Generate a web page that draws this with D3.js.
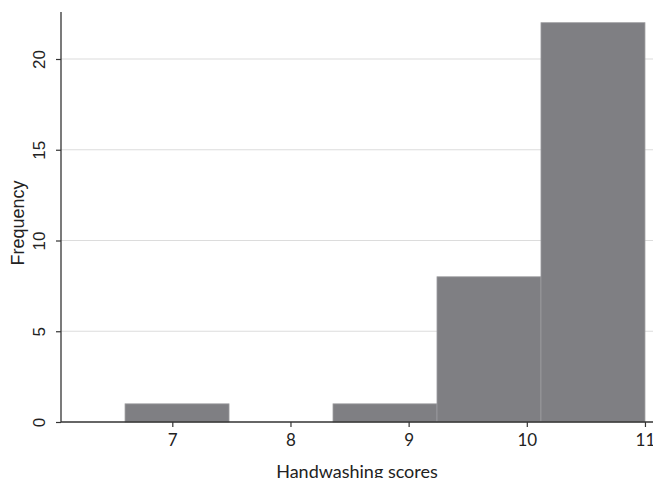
<!DOCTYPE html>
<html>
<head>
<meta charset="utf-8">
<script src="https://cdn.jsdelivr.net/npm/d3@7"></script>
<style>
html,body{margin:0;padding:0;background:#fff;}
svg{display:block;}
</style>
</head>
<body>
<svg id="chart" width="653" height="478"></svg>
<script>
// Data
const binStarts = [6.6, 7.48, 8.36, 9.24, 10.12];
const binEnds   = [7.48, 8.36, 9.24, 10.12, 11.0];
const counts    = [1, 0, 1, 8, 22];
const xTicks = [7, 8, 9, 10, 11];
const yTicks = [0, 5, 10, 15, 20];
const xTitle = "Handwashing scores";
const yTitle = "Frequency";

const svg = d3.select("#chart");
const x = d3.scaleLinear().domain([6.058, 11.068]).range([61, 653]);
const y = d3.scaleLinear().domain([0, 20]).range([422, 59]);
const yTop = y.invert(12);

// gridlines
svg.append("g").selectAll("line").data(yTicks.filter(d => d > 0)).join("line")
  .attr("x1", x(6.058)).attr("x2", 653)
  .attr("y1", d => y(d)).attr("y2", d => y(d))
  .attr("stroke", "#dcdcdc").attr("stroke-width", 1.2);

// bars
svg.append("g").selectAll("rect").data(counts.map((c, i) => ({c, s: binStarts[i], e: binEnds[i]})).filter(d => d.c > 0))
  .join("rect")
  .attr("x", d => x(d.s)).attr("width", d => x(d.e) - x(d.s))
  .attr("y", d => y(d.c)).attr("height", d => y(0) - y(d.c))
  .attr("fill", "#7f7f83").attr("stroke", "#9c9c9f").attr("stroke-width", 0.8);

// y axis
const yAxis = d3.axisLeft(y).tickValues(yTicks).tickSize(5).tickFormat(d3.format("d"));
const gy = svg.append("g").attr("transform", `translate(${x(6.058)},0)`).call(yAxis);
gy.select(".domain").remove();
gy.append("line").attr("x1", 0).attr("x2", 0).attr("y1", y(yTop)).attr("y2", y(0))
  .attr("stroke", "#333").attr("stroke-width", 1.3);
gy.selectAll(".tick line").attr("stroke", "#333").attr("stroke-width", 1.2);
gy.selectAll(".tick text")
  .attr("x", null).attr("dy", null)
  .attr("transform", "translate(-16,0) rotate(-90)")
  .attr("text-anchor", "middle")
  .attr("fill", "#222")
  .style("font-family", "'Liberation Sans', Arial, sans-serif")
  .style("font-size", "17px");

// x axis
const xAxis = d3.axisBottom(x).tickValues(xTicks).tickSize(5).tickFormat(d3.format("d"));
const gx = svg.append("g").attr("transform", `translate(0,${y(0)})`).call(xAxis);
gx.select(".domain").remove();
gx.append("line").attr("x1", x(6.058)).attr("x2", 653).attr("y1", 0).attr("y2", 0)
  .attr("stroke", "#333").attr("stroke-width", 1.3);
gx.selectAll(".tick line").attr("stroke", "#333").attr("stroke-width", 1.2);
gx.selectAll(".tick text")
  .attr("y", 24).attr("dy", null)
  .attr("fill", "#222")
  .style("font-family", "Lato, sans-serif")
  .style("font-size", "17px");

// titles
svg.append("text")
  .attr("x", (x(6.058) + 653) / 2).attr("y", 478)
  .attr("text-anchor", "middle")
  .attr("fill", "#222")
  .style("font-family", "Lato, sans-serif")
  .style("font-size", "18px")
  .text(xTitle);

svg.append("text")
  .attr("transform", "translate(24,223) rotate(-90)")
  .attr("text-anchor", "middle")
  .attr("fill", "#222")
  .style("font-family", "'Liberation Sans', Arial, sans-serif")
  .style("font-size", "18px")
  .text(yTitle);
</script>
</body>
</html>
